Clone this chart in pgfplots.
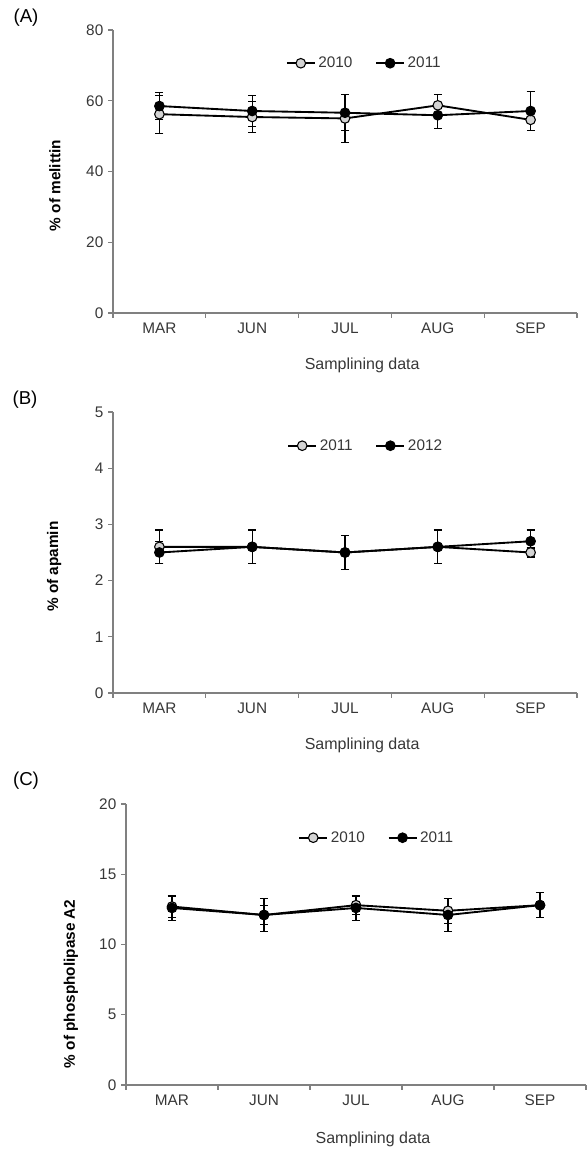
\documentclass[border=0pt]{standalone}
\usepackage{fontspec}
\setmainfont{Liberation Sans}
\usepackage{pgfplots}
\pgfplotsset{compat=1.18}

\definecolor{axgray}{RGB}{128,128,128}
\definecolor{txt}{RGB}{55,55,55}
\definecolor{lightfill}{RGB}{212,212,212}

% one px of the reference = 0.75pt
\pgfplotsset{
  panel/.style={
    scale only axis, anchor=south west,
    xmin=-0.5, xmax=4.5,
    axis x line*=bottom, axis y line*=left,
    axis line style={-, draw=axgray, line width=1.3pt},
    xtick={0,...,4}, xticklabels={MAR,JUN,JUL,AUG,SEP},
    major x tick style={draw=none},
    minor xtick={-0.5,0.5,...,4.5},
    tick align=outside, major tick length=3.75pt, minor tick length=3.75pt,
    tick style={draw=axgray, line width=0.9pt},
    ticklabel style={font=\fontsize{11.5}{13}\selectfont, text=txt},
    /pgf/number format/assume math mode=true,
    xlabel style={anchor=center, font=\fontsize{12}{14}\selectfont, text=txt},
    ylabel style={anchor=center, font=\fontsize{11.5}{13}\selectfont\bfseries, text=black},
    legend style={draw=none, fill=none, anchor=west, inner sep=0pt,
      font=\fontsize{11.5}{13}\selectfont, text=txt,
      /tikz/every even column/.append style={column sep=15pt}},
    legend columns=2,
    legend image code/.code={%
      \draw[mark repeat=2,mark phase=2] plot coordinates {(0pt,0pt)(10.5pt,0pt)(21pt,0pt)};},
  },
  s10/.style={black, line width=1.4pt, mark=*, mark size=3.6pt,
    mark options={fill=lightfill, draw=black, line width=0.8pt},
    error bars/.cd, y dir=both, y explicit,
    error bar style={line width=0.8pt, black},
    error mark options={rotate=90, mark size=3pt, line width=0.8pt, black}},
  s11/.style={black, line width=1.4pt, mark=*, mark size=3.6pt,
    mark options={fill=black, draw=black, line width=0.8pt},
    error bars/.cd, y dir=both, y explicit,
    error bar style={line width=0.8pt, black},
    error mark options={rotate=90, mark size=3pt, line width=0.8pt, black}},
}

\begin{document}
\begin{tikzpicture}
\useasboundingbox (0,0) rectangle (441pt,861.75pt);

% (A) melittin
\begin{axis}[panel, at={(84.75pt,627pt)}, width=348pt, height=212.25pt,
  ymin=0, ymax=80, ytick={0,20,...,80},
  xlabel={Samplining data}, ylabel={\% of melittin},
  xlabel style={at={(axis description cs:0.537,-0.184)}},
  ylabel style={at={(axis description cs:-0.125,0.45)}},
  legend style={at={(axis cs:1.36,70.6)}}]
\addplot[s10] table[x=x,y=y,y error=e] {
x y e
0 56.2 5.4
1 55.4 4.4
2 55.0 6.8
3 58.7 3.0
4 54.6 3.0
};
\addlegendentry{2010}
\addplot[s11] table[x=x,y=y,y error=e] {
x y e
0 58.5 3.8
1 57.1 4.3
2 56.6 5.1
3 55.9 3.7
4 57.1 5.6
};
\addlegendentry{2011}
\end{axis}

% (B) apamin
\begin{axis}[panel, at={(84.75pt,342pt)}, width=348pt, height=210.75pt,
  ymin=0, ymax=5, ytick={0,1,...,5},
  xlabel={Samplining data}, ylabel={\% of apamin},
  xlabel style={at={(axis description cs:0.537,-0.185)}},
  ylabel style={at={(axis description cs:-0.127,0.45)}},
  legend style={at={(axis cs:1.375,4.4)}}]
\addplot[s10] table[x=x,y=y,y error=e] {
x y e
0 2.6 0.3
1 2.6 0.3
2 2.5 0.3
3 2.6 0.3
4 2.5 0.08
};
\addlegendentry{2011}
\addplot[s11] table[x=x,y=y,y error=e] {
x y e
0 2.5 0.2
1 2.6 0.3
2 2.5 0.3
3 2.6 0.3
4 2.7 0.2
};
\addlegendentry{2012}
\end{axis}

% (C) phospholipase A2
\begin{axis}[panel, at={(94.5pt,48pt)}, width=345pt, height=210.75pt,
  ymin=0, ymax=20, ytick={0,5,...,20},
  xlabel={Samplining data}, ylabel={\% of phospholipase A2},
  xlabel style={at={(axis description cs:0.537,-0.192)}},
  ylabel style={at={(axis description cs:-0.12,0.36)}},
  legend style={at={(axis cs:1.37,17.6)}}]
\addplot[s10] table[x=x,y=y,y error=e] {
x y e
0 12.7 0.75
1 12.1 0.65
2 12.8 0.65
3 12.4 0.9
4 12.8 0.9
};
\addlegendentry{2010}
\addplot[s11] table[x=x,y=y,y error=e] {
x y e
0 12.6 0.9
1 12.1 1.2
2 12.6 0.9
3 12.1 1.2
4 12.8 0.9
};
\addlegendentry{2011}
\end{axis}

\node[font=\fontsize{14}{16}\selectfont] at (19.5pt,848.25pt) {(A)};
\node[font=\fontsize{14}{16}\selectfont] at (18.75pt,561.75pt) {(B)};
\node[font=\fontsize{14}{16}\selectfont] at (19.5pt,276pt) {(C)};
\end{tikzpicture}
\end{document}
